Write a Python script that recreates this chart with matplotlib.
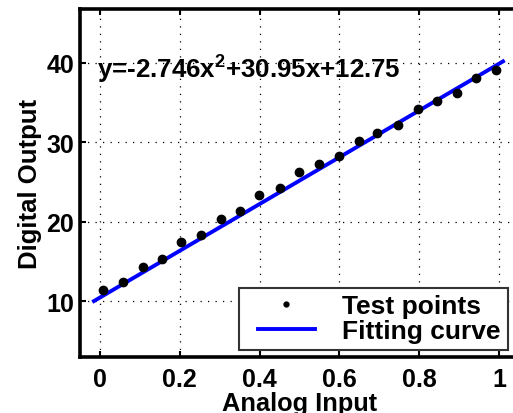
import matplotlib
matplotlib.use("Agg")
import matplotlib.pyplot as plt
from matplotlib.lines import Line2D
from matplotlib.legend_handler import HandlerLine2D

# data
test_x = [0.007, 0.057, 0.107, 0.155, 0.203, 0.253, 0.303, 0.351, 0.399, 0.451, 0.500,
          0.548, 0.598, 0.648, 0.694, 0.746, 0.796, 0.844, 0.894, 0.943, 0.992]
test_y = [11.4, 12.35, 14.35, 15.3, 17.4, 18.35, 20.3, 21.3, 23.3, 24.25, 26.3,
          27.3, 28.3, 30.2, 31.2, 32.2, 34.15, 35.2, 36.2, 38.15, 39.1]
fit_x = [-0.015, 1.01]
fit_y = [10.0, 40.2]
x_ticks = [0, 0.2, 0.4, 0.6, 0.8, 1]
x_tick_labels = ["0", "0.2", "0.4", "0.6", "0.8", "1"]
y_ticks = [10, 20, 30, 40]
y_tick_labels = ["10", "20", "30", "40"]
equation = r"y=-2.746x$^{2}$+30.95x+12.75"

plt.rcParams["font.family"] = ["Liberation Sans", "DejaVu Sans"]
plt.rcParams["font.weight"] = "bold"
plt.rcParams["mathtext.fontset"] = "custom"
plt.rcParams["mathtext.rm"] = "Liberation Sans:bold"
plt.rcParams["mathtext.bf"] = "Liberation Sans:bold"
plt.rcParams["mathtext.it"] = "Liberation Sans:bold"
plt.rcParams["mathtext.default"] = "bf"

fig = plt.figure(figsize=(5.13, 4.14), dpi=100)
ax = fig.add_axes([80 / 513, 56 / 414, 439 / 513, 348 / 414])

ax.plot(test_x, test_y, "o", color="black", markersize=6, label="Test points", zorder=3)
ax.plot(fit_x, fit_y, "-", color="#0000ff", linewidth=2.8, label="Fitting curve", zorder=2)

ax.set_xlim(-0.05, 1.05)
ax.set_ylim(2.95, 46.8)
ax.set_xticks(x_ticks)
ax.set_xticklabels(x_tick_labels)
ax.set_yticks(y_ticks)
ax.set_yticklabels(y_tick_labels)

ax.grid(True, color="black", linestyle=(0, (1, 5)), linewidth=0.9)
ax.tick_params(direction="in", length=4, width=1.5, top=True, right=True, labelsize=18)
ax.tick_params(axis="x", pad=7)
ax.tick_params(axis="y", pad=4.3)
for lab in ax.get_xticklabels() + ax.get_yticklabels():
    lab.set_fontweight("bold")
for s in ax.spines.values():
    s.set_linewidth(2.6)

ax.set_xlabel("Analog Input", fontsize=18.3, fontweight="bold", labelpad=0)
ax.set_ylabel("Digital Output", fontsize=18.5, fontweight="bold", labelpad=3)

ax.text(-0.008, 39.3, equation, fontsize=18.6, fontweight="bold", va="center", ha="left")

leg = ax.legend(loc="lower right", bbox_to_anchor=(0.974, 0.02), fontsize=19,
                frameon=True, fancybox=False, edgecolor="#333333", framealpha=1,
                handlelength=2.63, handletextpad=1.06, borderpad=0.25, labelspacing=0.05,
                borderaxespad=0, handler_map={Line2D: HandlerLine2D(xpad=0.47)})
leg.get_frame().set_linewidth(1.5)
leg.legend_handles[0].set_markersize(3.5)
for t in leg.get_texts():
    t.set_fontweight("bold")

fig.savefig("out.png", dpi=100)
